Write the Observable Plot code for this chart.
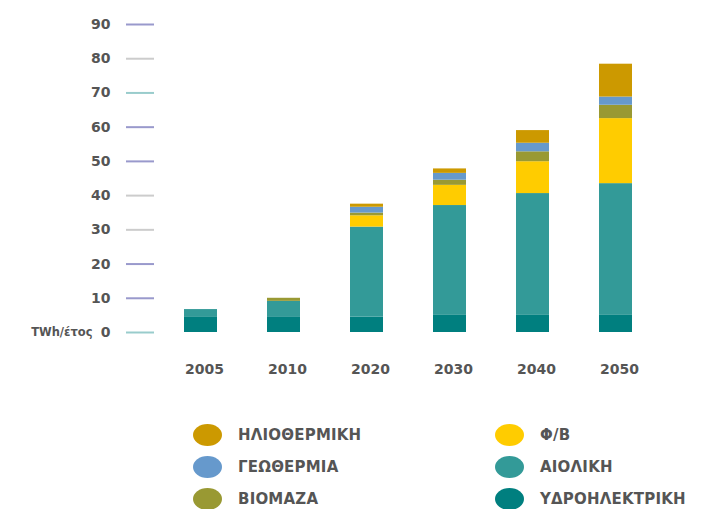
<!DOCTYPE html>
<html>
<head>
<meta charset="utf-8">
<script src="https://cdn.jsdelivr.net/npm/d3@7"></script>
<script src="https://cdn.jsdelivr.net/npm/@observablehq/plot@0.6"></script>
<style>
  body { margin: 0; background: #fff; font-family: "DejaVu Sans", sans-serif; }
  #chart { width: 723px; height: 509px; position: relative; overflow: hidden; }
  .legend { position: absolute; top: 424px; left: 0; width: 723px; }
  .item { position: absolute; display: flex; align-items: center; font-size: 15px; font-weight: bold; color: #555; letter-spacing: 0.2px; white-space: nowrap; }
  .dot { width: 29px; height: 22px; border-radius: 50%; margin-right: 16px; flex: none; }
</style>
</head>
<body>
<div id="chart"></div>
<script>
const years = ["2005", "2010", "2020", "2030", "2040", "2050"];
const sources = ["ΥΔΡΟΗΛΕΚΤΡΙΚΗ", "ΑΙΟΛΙΚΗ", "Φ/Β", "ΒΙΟΜΑΖΑ", "ΓΕΩΘΕΡΜΙΑ", "ΗΛΙΟΘΕΡΜΙΚΗ"];
const colors = ["#007f7f", "#339a98", "#ffcc00", "#999933", "#6699cc", "#cc9900"];
const hydro = [4.4, 4.6, 4.5, 5.0, 5.0, 5.0];
const wind = [2.3, 4.5, 26.3, 32.1, 35.6, 38.5];
const pv = [0, 0, 3.3, 5.9, 9.3, 19.0];
const biomass = [0, 0.9, 0.8, 1.5, 2.9, 3.9];
const geothermal = [0, 0, 1.7, 2.0, 2.5, 2.4];
const solarThermal = [0, 0, 0.9, 1.3, 3.7, 9.6];
const yTicksPurple = [10, 20, 50, 60, 90];
const yTicksGray = [30, 40, 80];
const yTicksTeal = [0, 70];
const unitLabel = "TWh/έτος";

const series = [hydro, wind, pv, biomass, geothermal, solarThermal];
const data = [];
years.forEach((yr, i) => sources.forEach((s, j) => data.push({year: yr, source: s, value: series[j][i]})));

const tickAxis = (ticks, stroke) => Plot.axisY({
  ticks, tickSize: 28, tickPadding: 16, stroke, strokeWidth: 2, strokeOpacity: 1,
  dx: -4, fontSize: 14, fontWeight: "bold", fill: "#555", label: null,
  tickFormat: d => String(d)
});

const plot = Plot.plot({
  width: 723, height: 400,
  marginTop: 24, marginBottom: 68, marginLeft: 158, marginRight: 64,
  style: {fontFamily: "DejaVu Sans, sans-serif", color: "#555"},
  x: {domain: years, paddingInner: 0.6, paddingOuter: 0.3, label: null},
  y: {domain: [0, 90], label: null},
  color: {domain: sources, range: colors},
  marks: [
    Plot.axisX({tickSize: 0, tickPadding: 32, fontSize: 14, fontWeight: "bold", fill: "#555", textAnchor: "start", dx: -16}),
    tickAxis(yTicksPurple, "#9999cc"),
    tickAxis(yTicksGray, "#cccccc"),
    tickAxis(yTicksTeal, "#99cccc"),
    Plot.text([0], {y: d => d, frameAnchor: "left", dx: -66, textAnchor: "end", text: () => unitLabel, fontSize: 11.5, fontWeight: "bold", fill: "#555"}),
    Plot.barY(data, {x: "year", y: "value", fill: "source", order: sources})
  ]
});
const chart = document.getElementById("chart");
chart.appendChild(plot);

const legendOrder = [
  ["ΗΛΙΟΘΕΡΜΙΚΗ", 0, 0], ["ΓΕΩΘΕΡΜΙΑ", 0, 1], ["ΒΙΟΜΑΖΑ", 0, 2],
  ["Φ/Β", 1, 0], ["ΑΙΟΛΙΚΗ", 1, 1], ["ΥΔΡΟΗΛΕΚΤΡΙΚΗ", 1, 2]
];
const leg = document.createElement("div");
leg.className = "legend";
legendOrder.forEach(([name, col, row]) => {
  const it = document.createElement("div");
  it.className = "item";
  it.style.left = (col === 0 ? 193 : 495) + "px";
  it.style.top = (row * 32) + "px";
  const dot = document.createElement("span");
  dot.className = "dot";
  dot.style.background = colors[sources.indexOf(name)];
  const t = document.createElement("span");
  t.textContent = name;
  it.appendChild(dot); it.appendChild(t);
  leg.appendChild(it);
});
chart.appendChild(leg);
</script>
</body>
</html>
